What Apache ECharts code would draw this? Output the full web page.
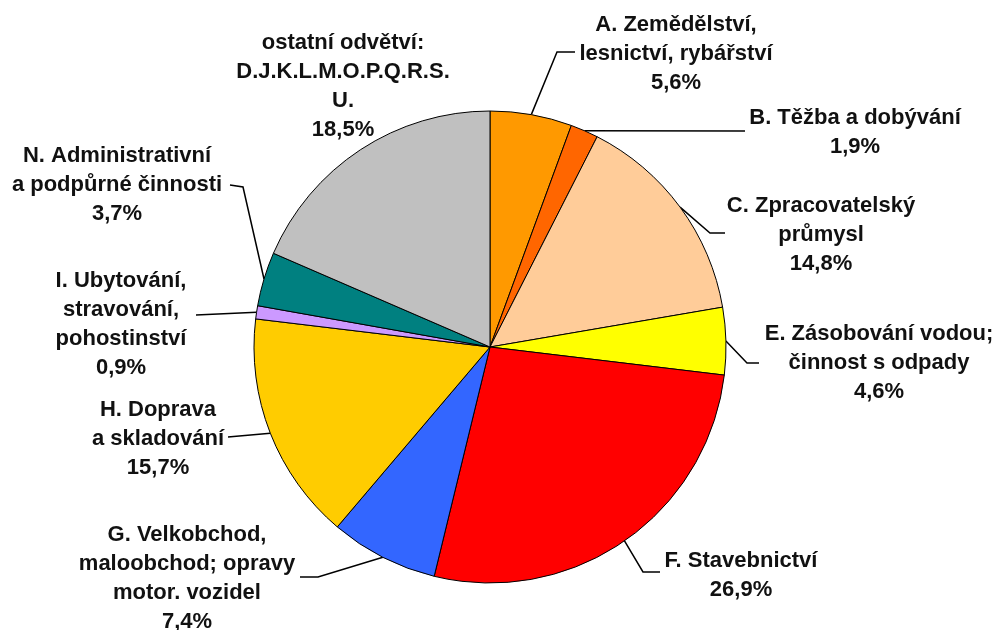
<!DOCTYPE html>
<html>
<head>
<meta charset="utf-8">
<script src="https://cdn.jsdelivr.net/npm/echarts@6/dist/echarts.min.js"></script>
<style>
  html, body { margin: 0; padding: 0; background: #fff; }
  #chart { width: 994px; height: 630px; }
</style>
</head>
<body>
<div id="chart"></div>
<script>
// odvětví (clockwise from 12 o'clock)
const categories = [
    'A. Zemědělství,\nlesnictví, rybářství',
    'B. Těžba a dobývání',
    'C. Zpracovatelský\nprůmysl',
    'E. Zásobování vodou;\nčinnost s odpady',
    'F. Stavebnictví',
    'G. Velkobchod,\nmaloobchod; opravy\nmotor. vozidel',
    'H. Doprava\na skladování',
    'I. Ubytování,\nstravování,\npohostinství',
    'N. Administrativní\na podpůrné činnosti',
    'ostatní odvětví:\nD.J.K.L.M.O.P.Q.R.S.\nU.'
];
const shares = [5.6, 1.9, 14.8, 4.6, 26.9, 7.4, 15.7, 0.9, 3.7, 18.5];
const colors = ['#ff9900', '#ff6600', '#ffcc99', '#ffff00', '#ff0000',
                '#3366ff', '#ffcc00', '#cc99ff', '#008080', '#c0c0c0'];

// label placement: centre x, centre y, elbow x, elbow y, end x, end y
const labelPos = [
    [676, 54, 557, 52, 575, 52],
    [855, 132, 745, 131, 745, 131],
    [821, 235, 710, 233, 725, 233],
    [879, 363, 747, 363, 759, 363],
    [741, 575, 643, 572, 660, 572],
    [187, 578, 318, 577, 300, 577],
    [158, 439, 228, 437, 228, 437],
    [121, 324, 196, 315, 196, 315],
    [117, 185, 243, 187, 230, 185],
    [343, 86, null, null, null, null]
];

const chart = echarts.init(document.getElementById('chart'));

const data = categories.map(function (name, i) {
    return {
        name: name,
        value: shares[i],
        itemStyle: { color: colors[i] },
        labelLine: { show: labelPos[i][2] != null }
    };
});

chart.setOption({
    animation: false,
    backgroundColor: '#fff',
    series: [{
        type: 'pie',
        center: [490, 347],
        radius: 236,
        startAngle: 90,
        clockwise: true,
        avoidLabelOverlap: false,
        data: data,
        itemStyle: { borderColor: '#000', borderWidth: 1 },
        emphasis: { disabled: true },
        label: {
            show: true,
            position: 'outside',
            color: '#111',
            fontFamily: 'Liberation Sans, Arial, sans-serif',
            fontSize: 22,
            fontWeight: 'bold',
            lineHeight: 29,
            align: 'center',
            formatter: function (p) {
                return p.name + '\n' + p.value.toFixed(1).replace('.', ',') + '%';
            }
        },
        labelLine: {
            show: true,
            lineStyle: { color: '#000', width: 1.5 }
        },
        labelLayout: function (p) {
            const L = labelPos[p.dataIndex];
            const out = {
                x: L[0],
                y: L[1],
                align: 'center',
                verticalAlign: 'middle',
                hideOverlap: false
            };
            if (L[2] != null && p.labelLinePoints) {
                out.labelLinePoints = [
                    p.labelLinePoints[0].slice(),
                    [L[2], L[3]],
                    [L[4], L[5]]
                ];
            }
            return out;
        }
    }]
});
</script>
</body>
</html>
